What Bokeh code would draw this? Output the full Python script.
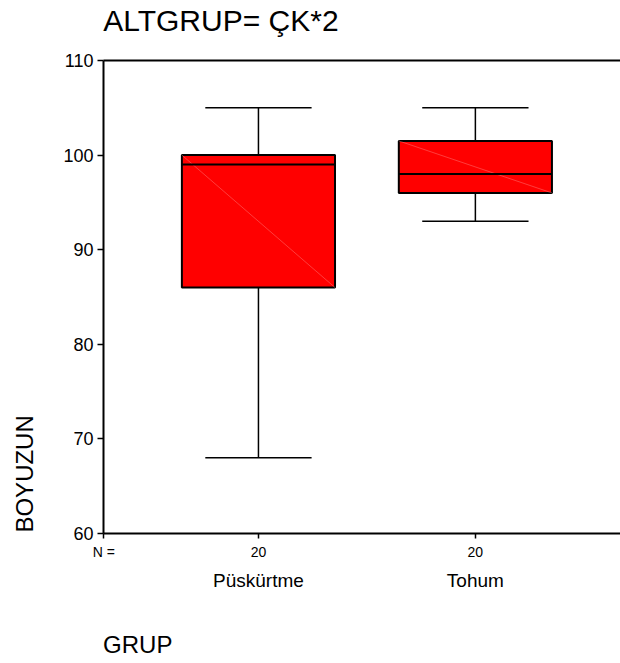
import numpy as np
from bokeh.plotting import figure
from bokeh.models import Range1d, FixedTicker, LinearAxis
from bokeh.embed import file_html
from bokeh.resources import INLINE

# ---- data ----
groups = ["Püskürtme", "Tohum"]
n_counts = [20, 20]
whisker_low = [68, 93]
q1 = [86, 96]
median = [99, 98]
q3 = [100, 101.5]
whisker_high = [105, 105]
y_ticks = [60, 70, 80, 90, 100, 110]

TITLE = "ALTGRUP= ÇK*2"
X_TITLE = "GRUP"
Y_TITLE = "BOYUZUN"

# ---- layout constants ----
FONT = "Liberation Sans"
xpos = np.arange(1, len(groups) + 1, dtype=float)
X0, X1 = 0.2857, 2.669
BOX_W = 0.706
CAP_W = 0.49
TITLE_AT = 0.827      # x where the (left-starting) title is centred
XT_AT = 0.4435        # x where GRUP is centred
YT_AT = 66.3          # y where BOYUZUN is centred
NKEY = X0 + 0.002     # x of the "N =" label


def bare_axis(ticks, overrides, size, standoff):
    ax = LinearAxis(ticker=FixedTicker(ticks=ticks))
    ax.major_label_overrides = overrides
    ax.axis_line_color = None
    ax.major_tick_line_color = None
    ax.minor_tick_line_color = None
    ax.major_tick_out = 0
    ax.major_tick_in = 0
    ax.major_label_text_font = FONT
    ax.major_label_text_font_size = size
    ax.major_label_text_color = "black"
    ax.major_label_standoff = standoff
    return ax


p = figure(width=620, height=663,
           x_range=Range1d(X0, X1), y_range=Range1d(60, 110),
           output_backend="svg", toolbar_location=None,
           min_border_left=103, min_border_right=0,
           min_border_top=60, min_border_bottom=130,
           x_axis_location=None, y_axis_location=None)
p.title = None
p.outline_line_color = None
p.grid.visible = False
p.background_fill_color = "white"
p.border_fill_color = "white"

# y axis
yax = LinearAxis(ticker=FixedTicker(ticks=y_ticks))
yax.axis_line_width = 2
yax.major_tick_line_width = 1.5
yax.major_tick_out = 6
yax.major_tick_in = 0
yax.minor_tick_line_color = None
yax.major_label_text_font = FONT
yax.major_label_text_font_size = "18px"
yax.major_label_text_color = "black"
yax.major_label_standoff = 4
p.add_layout(yax, "left")

# y title
ylab = bare_axis([YT_AT], {YT_AT: Y_TITLE}, "24px", 22)
ylab.major_label_orientation = "vertical"
p.add_layout(ylab, "left")

# top line + chart title
top = bare_axis([TITLE_AT], {TITLE_AT: TITLE}, "30px", 24)
top.axis_line_color = "black"
top.axis_line_width = 2
p.add_layout(top, "above")

# bottom axis: line, tick marks and the N counts row
nax = LinearAxis(ticker=FixedTicker(ticks=[NKEY] + list(xpos)))
nax.major_label_overrides = {NKEY: "N ="}
nax.major_label_overrides.update({float(x): str(n) for x, n in zip(xpos, n_counts)})
nax.axis_line_width = 2
nax.major_tick_line_width = 1.5
nax.major_tick_out = 5
nax.major_tick_in = 0
nax.minor_tick_line_color = None
nax.major_label_text_font = FONT
nax.major_label_text_font_size = "14px"
nax.major_label_text_color = "black"
nax.major_label_standoff = 5
p.add_layout(nax, "below")

# category names
cax = bare_axis(list(xpos), {float(x): g for x, g in zip(xpos, groups)}, "19px", 7)
p.add_layout(cax, "below")

# x title
gax = bare_axis([XT_AT], {XT_AT: X_TITLE}, "24px", 37)
p.add_layout(gax, "below")

# whiskers
p.segment(x0=xpos, y0=q3, x1=xpos, y1=whisker_high, line_color="black", line_width=1.5)
p.segment(x0=xpos, y0=q1, x1=xpos, y1=whisker_low, line_color="black", line_width=1.5)
p.segment(x0=xpos - CAP_W / 2, y0=whisker_high, x1=xpos + CAP_W / 2, y1=whisker_high,
          line_color="black", line_width=1.5)
p.segment(x0=xpos - CAP_W / 2, y0=whisker_low, x1=xpos + CAP_W / 2, y1=whisker_low,
          line_color="black", line_width=1.5)
# boxes
p.vbar(x=xpos, width=BOX_W, bottom=q1, top=q3, fill_color="#ff0000",
       line_color="black", line_width=2)
p.segment(x0=xpos - BOX_W / 2, y0=q3, x1=xpos + BOX_W / 2, y1=q1,
          line_color="#ff9090", line_width=0.6, line_alpha=0.7)
p.segment(x0=xpos - BOX_W / 2, y0=median, x1=xpos + BOX_W / 2, y1=median,
          line_color="black", line_width=2)

open("out.html", "w").write(file_html(p, INLINE))
